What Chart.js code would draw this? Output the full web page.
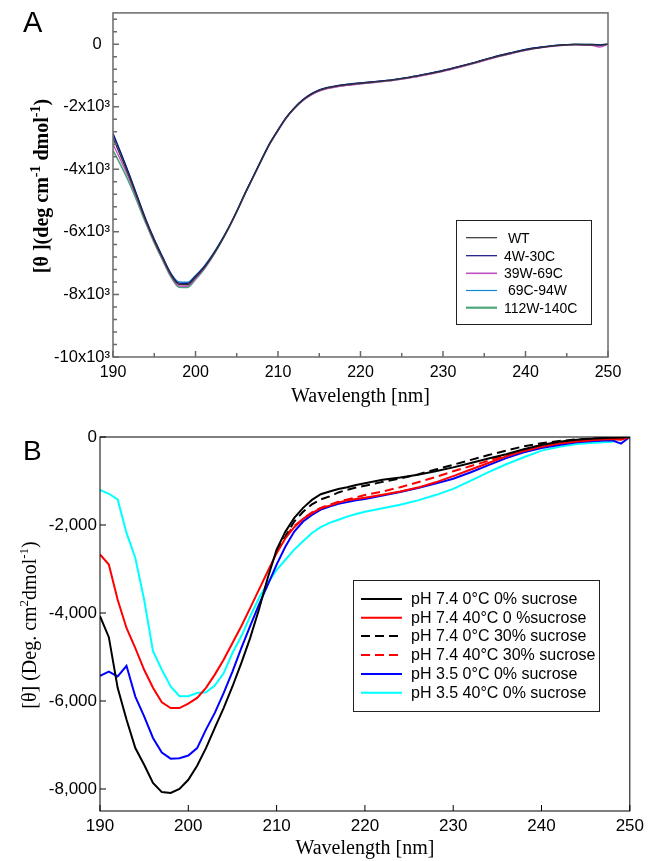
<!DOCTYPE html>
<html>
<head>
<meta charset="utf-8">
<script src="https://cdn.jsdelivr.net/npm/chart.js@4.4.1/dist/chart.umd.min.js"></script>
<style>
  body { margin: 0; background: #fff; }
  canvas { position: absolute; left: 0; }
  #chartA { top: 0; }
  #chartB { top: 415px; }
</style>
</head>
<body>
<canvas id="chartA" width="649" height="415"></canvas>
<canvas id="chartB" width="649" height="446"></canvas>
<script>
// wavelength grid (nm), shared by both panels
const wavelengths = [190,191,192,193,194,195,196,197,198,199,200,201,202,203,204,205,206,207,208,209,210,
  211,212,213,214,215,216,217,218,219,220,222,224,226,228,230,232,234,236,238,240,242,244,246,248,249,250];

// panel A - mutants
const labelsA = [' WT', '4W-30C', '39W-69C', ' 69C-94W', '112W-140C'];
const colorsA = ['#333333', '#101080', '#c050c0', '#1088d8', '#4aa77a'];
const wt = [-3000,-3620,-4260,-4960,-5660,-6280,-6830,-7360,-7680,-7690,-7450,-7160,-6790,-6360,-5880,-5350,-4780,-4240,-3700,-3180,-2750,
  -2350,-2040,-1790,-1610,-1480,-1400,-1350,-1310,-1280,-1250,-1200,-1140,-1060,-960,-850,-720,-580,-430,-300,-180,-100,-40,-10,-20,-30,0];
const m4w30c = [-2850,-3500,-4180,-4900,-5610,-6240,-6800,-7330,-7640,-7650,-7420,-7140,-6770,-6350,-5870,-5340,-4770,-4230,-3690,-3170,-2740,
  -2340,-2030,-1780,-1590,-1460,-1380,-1330,-1290,-1260,-1240,-1190,-1130,-1050,-950,-840,-710,-570,-420,-290,-170,-90,-30,-5,-10,-20,0];
const m39w69c = [-3200,-3750,-4330,-5000,-5690,-6310,-6870,-7400,-7730,-7740,-7490,-7190,-6810,-6370,-5890,-5360,-4790,-4250,-3710,-3200,-2770,
  -2370,-2060,-1810,-1630,-1500,-1420,-1370,-1330,-1300,-1270,-1220,-1160,-1080,-980,-870,-740,-600,-450,-320,-200,-110,-50,-20,-40,-90,0];
const m69c94w = [-2900,-3530,-4200,-4910,-5620,-6240,-6790,-7310,-7600,-7610,-7390,-7110,-6750,-6330,-5860,-5330,-4760,-4220,-3680,-3160,-2740,
  -2340,-2030,-1780,-1600,-1470,-1390,-1340,-1300,-1270,-1240,-1190,-1130,-1050,-950,-840,-710,-570,-420,-290,-170,-90,-30,-5,-15,-25,0];
const m112w140c = [-3400,-3900,-4450,-5080,-5740,-6350,-6900,-7430,-7770,-7780,-7520,-7210,-6820,-6380,-5900,-5360,-4790,-4250,-3710,-3190,-2760,
  -2360,-2050,-1800,-1620,-1490,-1410,-1360,-1320,-1290,-1260,-1210,-1150,-1070,-970,-860,-730,-590,-440,-310,-190,-100,-40,-10,-10,-20,0];
const seriesA = [wt, m4w30c, m39w69c, m69c94w, m112w140c];
const yTicksA = [-10000, -8000, -6000, -4000, -2000, 0];

// panel B - conditions
const labelsB = ['pH 7.4 0\u00B0C 0% sucrose', 'pH 7.4 40\u00B0C 0 %sucrose', 'pH 7.4 0\u00B0C 30% sucrose',
  'pH 7.4 40\u00B0C 30% sucrose', 'pH 3.5 0\u00B0C 0% sucrose', 'pH 3.5 40\u00B0C 0% sucrose'];
const colorsB = ['#000000', '#ff0000', '#000000', '#ff0000', '#0000ff', '#00ffff'];
const dashedB = [false, false, true, true, false, false];
const ph74c0s0 = [-4070,-4550,-5700,-6420,-7070,-7450,-7860,-8070,-8090,-8000,-7790,-7470,-7070,-6610,-6160,-5670,-5140,-4570,-3920,-3200,-2560,
  -2150,-1840,-1610,-1430,-1300,-1240,-1180,-1140,-1090,-1050,-970,-920,-860,-780,-690,-590,-490,-390,-280,-180,-110,-60,-35,-15,-10,0];
const ph74c40s0 = [-2670,-2900,-3700,-4340,-4800,-5290,-5700,-6030,-6160,-6160,-6060,-5930,-5700,-5400,-5060,-4680,-4300,-3890,-3470,-3050,-2640,
  -2300,-2050,-1860,-1730,-1620,-1560,-1490,-1440,-1410,-1380,-1310,-1240,-1150,-1030,-890,-740,-590,-440,-320,-220,-150,-100,-70,-45,-60,0];
const ph74c0s30 = [null,null,null,null,null,null,null,null,null,null,null,null,null,null,null,null,null,null,null,null,-2600,
  -2260,-1920,-1700,-1530,-1420,-1350,-1260,-1200,-1150,-1110,-1020,-940,-850,-740,-630,-520,-410,-310,-210,-140,-90,-55,-35,-20,-20,0];
const ph74c40s30 = [null,null,null,null,null,null,null,null,null,null,null,null,null,null,null,null,null,null,null,null,null,
  -2250,-2020,-1860,-1710,-1610,-1540,-1470,-1420,-1370,-1320,-1240,-1140,-1030,-910,-780,-660,-540,-410,-290,-180,-120,-80,-55,-40,-50,0];
const ph35c0s0 = [-5430,-5330,-5440,-5200,-5900,-6350,-6840,-7170,-7310,-7300,-7240,-7070,-6650,-6270,-5820,-5330,-4800,-4300,-3810,-3360,-2900,
  -2490,-2150,-1920,-1770,-1650,-1580,-1520,-1480,-1440,-1410,-1330,-1250,-1160,-1060,-950,-800,-640,-480,-350,-250,-180,-120,-90,-75,-150,0];
const ph35c40s0 = [-1200,-1290,-1420,-2180,-2750,-3700,-4870,-5290,-5670,-5890,-5890,-5820,-5800,-5650,-5370,-4910,-4530,-4080,-3660,-3320,-3020,
  -2790,-2560,-2370,-2180,-2050,-1950,-1880,-1810,-1750,-1700,-1620,-1540,-1440,-1320,-1180,-990,-800,-620,-460,-310,-220,-160,-130,-110,0,0];
const seriesB = [ph74c0s0, ph74c40s0, ph74c0s30, ph74c40s30, ph35c0s0, ph35c40s0];
const yTicksB = [-8000, -6000, -4000, -2000, 0];

const xTicks = [190, 200, 210, 220, 230, 240, 250];

function points(vals) {
  return wavelengths.map((w, i) => ({ x: w, y: vals[i] }));
}

// text with superscripts, optionally rotated, centred on (x, y) baseline
function drawRich(ctx, parts, x, y, rot) {
  ctx.save();
  ctx.translate(x, y);
  ctx.rotate(rot);
  ctx.fillStyle = '#000';
  ctx.textBaseline = 'alphabetic';
  ctx.textAlign = 'left';
  let total = 0;
  parts.forEach(p => { ctx.font = p.font; total += ctx.measureText(p.t).width; });
  let cx = -total / 2;
  parts.forEach(p => {
    ctx.font = p.font;
    ctx.fillText(p.t, cx, p.dy || 0);
    cx += ctx.measureText(p.t).width;
  });
  ctx.restore();
}

function decor(cfg) {
  return {
    id: 'decor' + cfg.name,
    afterDraw(chart) {
      const { ctx, chartArea: a, scales } = chart;
      ctx.save();
      // frame
      ctx.strokeStyle = cfg.frameColor;
      ctx.lineWidth = cfg.frameWidth;
      ctx.strokeRect(a.left, a.top, a.right - a.left, a.bottom - a.top);
      // inward tick marks
      ctx.beginPath();
      cfg.xMarks.forEach(([v, len]) => {
        const px = scales.x.getPixelForValue(v);
        ctx.moveTo(px, a.bottom); ctx.lineTo(px, a.bottom - len);
      });
      cfg.yMarks.forEach(([v, len]) => {
        const py = scales.y.getPixelForValue(v);
        ctx.moveTo(a.left, py); ctx.lineTo(a.left + len, py);
      });
      ctx.stroke();

      // legend box
      const L = cfg.legend;
      ctx.strokeStyle = '#222';
      ctx.lineWidth = 1;
      ctx.strokeRect(L.box[0], L.box[1], L.box[2], L.box[3]);
      ctx.font = L.font;
      ctx.textBaseline = 'middle';
      ctx.textAlign = 'left';
      chart.data.datasets.forEach((ds, i) => {
        const y = L.rows[i];
        ctx.beginPath();
        ctx.strokeStyle = ds.borderColor;
        ctx.lineWidth = L.lineWidths ? L.lineWidths[i] : ds.borderWidth;
        ctx.setLineDash(ds.borderDash || []);
        ctx.moveTo(L.x0, y); ctx.lineTo(L.x1, y);
        ctx.stroke();
        ctx.setLineDash([]);
        ctx.fillStyle = '#000';
        ctx.fillText(ds.label, L.tx, y + 1);
      });

      // panel letter
      ctx.font = cfg.letterFont;
      ctx.fillStyle = '#000';
      ctx.textBaseline = 'alphabetic';
      ctx.fillText(cfg.letter, cfg.letterPos[0], cfg.letterPos[1]);
      ctx.restore();

      // y axis title
      drawRich(ctx, cfg.yTitle, cfg.yTitlePos[0], cfg.yTitlePos[1], -Math.PI / 2);
    }
  };
}

// ---------- panel A ----------
const xMarksA = [];
for (let v = 190; v <= 250; v += 5) xMarksA.push([v, v % 10 === 0 ? 6 : 4]);
const yMarksA = [];
for (let v = -10000; v <= 1000; v += 400) yMarksA.push([v, v % 2000 === 0 ? 6 : 4]);

new Chart(document.getElementById('chartA'), {
  type: 'line',
  data: {
    datasets: seriesA.map((s, i) => ({
      label: labelsA[i],
      data: points(s),
      borderColor: colorsA[i],
      borderWidth: i === 4 ? 1.6 : 1.3,
      pointRadius: 0,
      fill: false,
      cubicInterpolationMode: 'monotone'
    }))
  },
  options: {
    responsive: false,
    animation: false,
    layout: { padding: { left: 0, right: 41, top: 10, bottom: 0 } },
    plugins: { legend: { display: false }, tooltip: { enabled: false } },
    scales: {
      x: {
        type: 'linear', min: 190, max: 250,
        afterFit: s => { s.height = 58; },
        afterBuildTicks: s => { s.ticks = xTicks.map(v => ({ value: v })); },
        grid: { display: false, drawTicks: false },
        border: { display: false },
        ticks: { color: '#000', padding: 6, font: { family: 'Liberation Sans', size: 16 } },
        title: { display: true, text: 'Wavelength [nm]', color: '#000',
          font: { family: 'Liberation Serif', size: 20 }, padding: { top: 0, bottom: 6 } }
      },
      y: {
        type: 'linear', min: -10000, max: 1000,
        afterFit: s => { s.width = 113; },
        afterBuildTicks: s => { s.ticks = yTicksA.map(v => ({ value: v })); },
        grid: { display: false, drawTicks: false },
        border: { display: false },
        ticks: {
          color: '#000', padding: 3, font: { family: 'Liberation Sans', size: 16.5 },
          callback: v => v === 0 ? '0\u2002' : (v / 1000) + 'x10\u00B3'
        }
      }
    }
  },
  plugins: [decor({
    name: 'A', frameColor: '#6a6a6a', frameWidth: 1.5,
    xMarks: xMarksA, yMarks: yMarksA,
    legend: { box: [456.5, 220.5, 135, 104], x0: 466, x1: 497, tx: 504,
      rows: [237.7, 255.7, 273.3, 290.5, 307.7], font: '14px "Liberation Sans"',
      lineWidths: [1.2, 1.2, 1.6, 1.2, 2.2] },
    letter: 'A', letterFont: '29px "Liberation Sans"', letterPos: [23, 32],
    yTitle: [
      { t: '[\u03B8 ](deg cm', font: 'bold 20px "Liberation Serif"' },
      { t: '-1', font: 'bold 14px "Liberation Serif"', dy: -8 },
      { t: ' dmol', font: 'bold 20px "Liberation Serif"' },
      { t: '-1', font: 'bold 14px "Liberation Serif"', dy: -8 },
      { t: ')', font: 'bold 20px "Liberation Serif"' }
    ],
    yTitlePos: [48, 186]
  })]
});

// ---------- panel B ----------
const xMarksB = xTicks.map(v => [v, 6]);
const yMarksB = yTicksB.map(v => [v, 6]);

new Chart(document.getElementById('chartB'), {
  type: 'line',
  data: {
    datasets: seriesB.map((s, i) => ({
      label: labelsB[i],
      data: points(s),
      borderColor: colorsB[i],
      borderWidth: 2,
      borderDash: dashedB[i] ? [9, 5] : [],
      pointRadius: 0,
      fill: false,
      tension: 0
    }))
  },
  options: {
    responsive: false,
    animation: false,
    layout: { padding: { left: 0, right: 16, top: 22, bottom: 0 } },
    plugins: { legend: { display: false }, tooltip: { enabled: false } },
    scales: {
      x: {
        type: 'linear', min: 190, max: 250,
        afterFit: s => { s.height = 50; },
        afterBuildTicks: s => { s.ticks = xTicks.map(v => ({ value: v })); },
        grid: { display: false, drawTicks: false },
        border: { display: false },
        ticks: { color: '#000', padding: 5, font: { family: 'Liberation Sans', size: 17 } },
        title: { display: true, text: 'Wavelength [nm]', color: '#000',
          font: { family: 'Liberation Serif', size: 20 }, padding: { top: 0, bottom: 0 } }
      },
      y: {
        type: 'linear', min: -8500, max: 0,
        afterFit: s => { s.width = 100; },
        afterBuildTicks: s => { s.ticks = yTicksB.map(v => ({ value: v })); },
        grid: { display: false, drawTicks: false },
        border: { display: false },
        ticks: {
          color: '#000', padding: 3, font: { family: 'Liberation Sans', size: 17 },
          callback: v => v.toLocaleString('en-US')
        }
      }
    }
  },
  plugins: [decor({
    name: 'B', frameColor: '#000', frameWidth: 1,
    xMarks: xMarksB, yMarks: yMarksB,
    legend: { box: [353.5, 165.5, 246, 131], x0: 361, x1: 402, tx: 411,
      rows: [184, 202.7, 221, 240, 259, 277.7], font: '16px "Liberation Sans"' },
    letter: 'B', letterFont: '28px "Liberation Sans"', letterPos: [23, 45],
    yTitle: [
      { t: '[\u03B8] (Deg. cm', font: '20px "Liberation Serif"' },
      { t: '2', font: '13px "Liberation Serif"', dy: -8 },
      { t: 'dmol', font: '20px "Liberation Serif"' },
      { t: '-1', font: '13px "Liberation Serif"', dy: -8 },
      { t: ')', font: '20px "Liberation Serif"' }
    ],
    yTitlePos: [36, 210]
  })]
});
</script>
</body>
</html>
